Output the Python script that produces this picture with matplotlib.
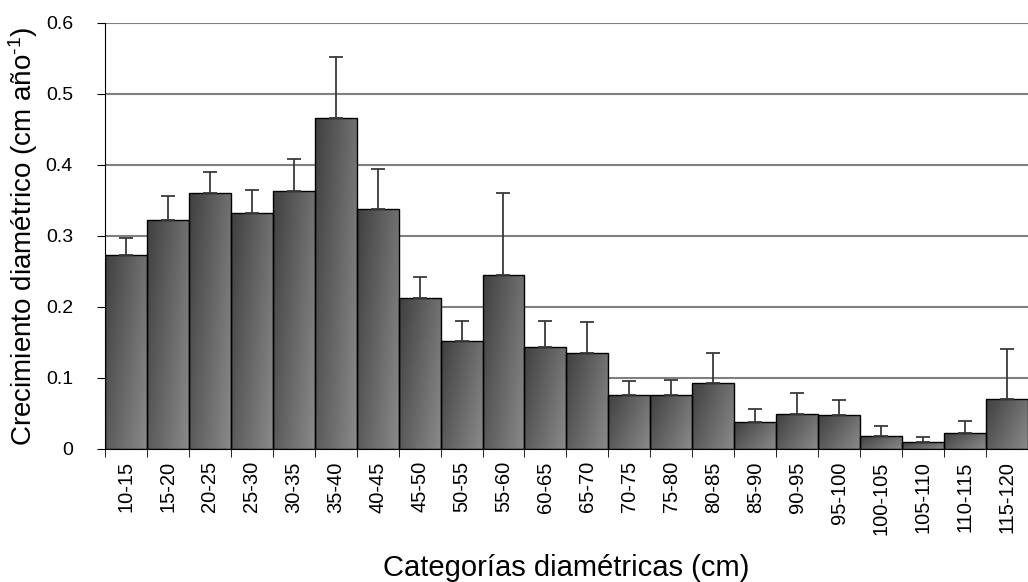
import numpy as np
import matplotlib.pyplot as plt
from matplotlib.colors import LinearSegmentedColormap

plt.rcParams['font.family'] = ['Liberation Sans', 'DejaVu Sans']
plt.rcParams['mathtext.fontset'] = 'custom'
plt.rcParams['mathtext.rm'] = 'Liberation Sans'
plt.rcParams['mathtext.it'] = 'Liberation Sans'

categories = ["10-15", "15-20", "20-25", "25-30", "30-35", "35-40", "40-45", "45-50",
              "50-55", "55-60", "60-65", "65-70", "70-75", "75-80", "80-85", "85-90",
              "90-95", "95-100", "100-105", "105-110", "110-115", "115-120"]
growth = [0.273, 0.322, 0.360, 0.332, 0.363, 0.466, 0.338, 0.212,
          0.152, 0.245, 0.143, 0.135, 0.075, 0.075, 0.092, 0.037,
          0.049, 0.047, 0.018, 0.009, 0.022, 0.070]
err_top = [0.297, 0.356, 0.390, 0.365, 0.408, 0.552, 0.394, 0.242,
           0.180, 0.360, 0.180, 0.178, 0.095, 0.097, 0.135, 0.056,
           0.078, 0.069, 0.032, 0.017, 0.039, 0.140]

err = np.array(err_top) - np.array(growth)
x = np.arange(len(categories))

fig = plt.figure(figsize=(10.28, 5.82), dpi=100)
ax = fig.add_axes([0.102, 0.229, 0.898, 0.732])

# per-bar diagonal shading: dark top-left, light bottom-right
cmap = LinearSegmentedColormap.from_list("g", ["#404040", "#8a8a8a"])
xf = np.linspace(0, 1, 64)
yf = np.linspace(0, 1, 64)
img = (0x30 * xf[None, :] + 0x1a * yf[:, None]) / (0x8a - 0x40)

ax.set_ylim(0, 0.6)
ax.set_xlim(-0.5, len(categories) - 0.5)
ax.set_yticks(np.arange(0, 0.61, 0.1))
ax.yaxis.grid(True, color="#808080", lw=1.5)
ax.set_axisbelow(True)

bars = ax.bar(x, growth, width=1.0, color="none", edgecolor="black", lw=1.0, zorder=3)
for b in bars:
    x0, y0, w, h = b.get_x(), b.get_y(), b.get_width(), b.get_height()
    im = ax.imshow(img, cmap=cmap, extent=[x0, x0 + w, y0, y0 + h], aspect="auto",
                   origin="upper", zorder=2, vmin=0, vmax=1)
    im.set_clip_path(b)

ax.errorbar(x, growth, yerr=[np.zeros_like(err), err], fmt="none", ecolor="#3a3a3a",
            elinewidth=1.3, capsize=5, capthick=1.3, zorder=4)

ax.set_yticklabels(["0", "0.1", "0.2", "0.3", "0.4", "0.5", "0.6"], fontsize=14)
ax.set_xticks(x)
ax.set_xticklabels(categories, rotation=90, fontsize=14.5)
ax.set_xticks(np.arange(-0.5, len(categories), 1), minor=True)
ax.tick_params(axis="x", which="major", length=0, pad=9)
ax.tick_params(axis="x", which="minor", length=6, color="black")
ax.tick_params(axis="y", length=6, pad=17)

for s in ["top", "right"]:
    ax.spines[s].set_visible(False)
ax.spines["left"].set_color("black")
ax.spines["bottom"].set_color("black")

ax.set_ylabel(r"Crecimiento diamétrico (cm año$^{\text{-1}}$)", fontsize=20, labelpad=4)
ax.set_xlabel("Categorías diamétricas (cm)", fontsize=21, labelpad=14)

fig.savefig("out.png", dpi=100)
